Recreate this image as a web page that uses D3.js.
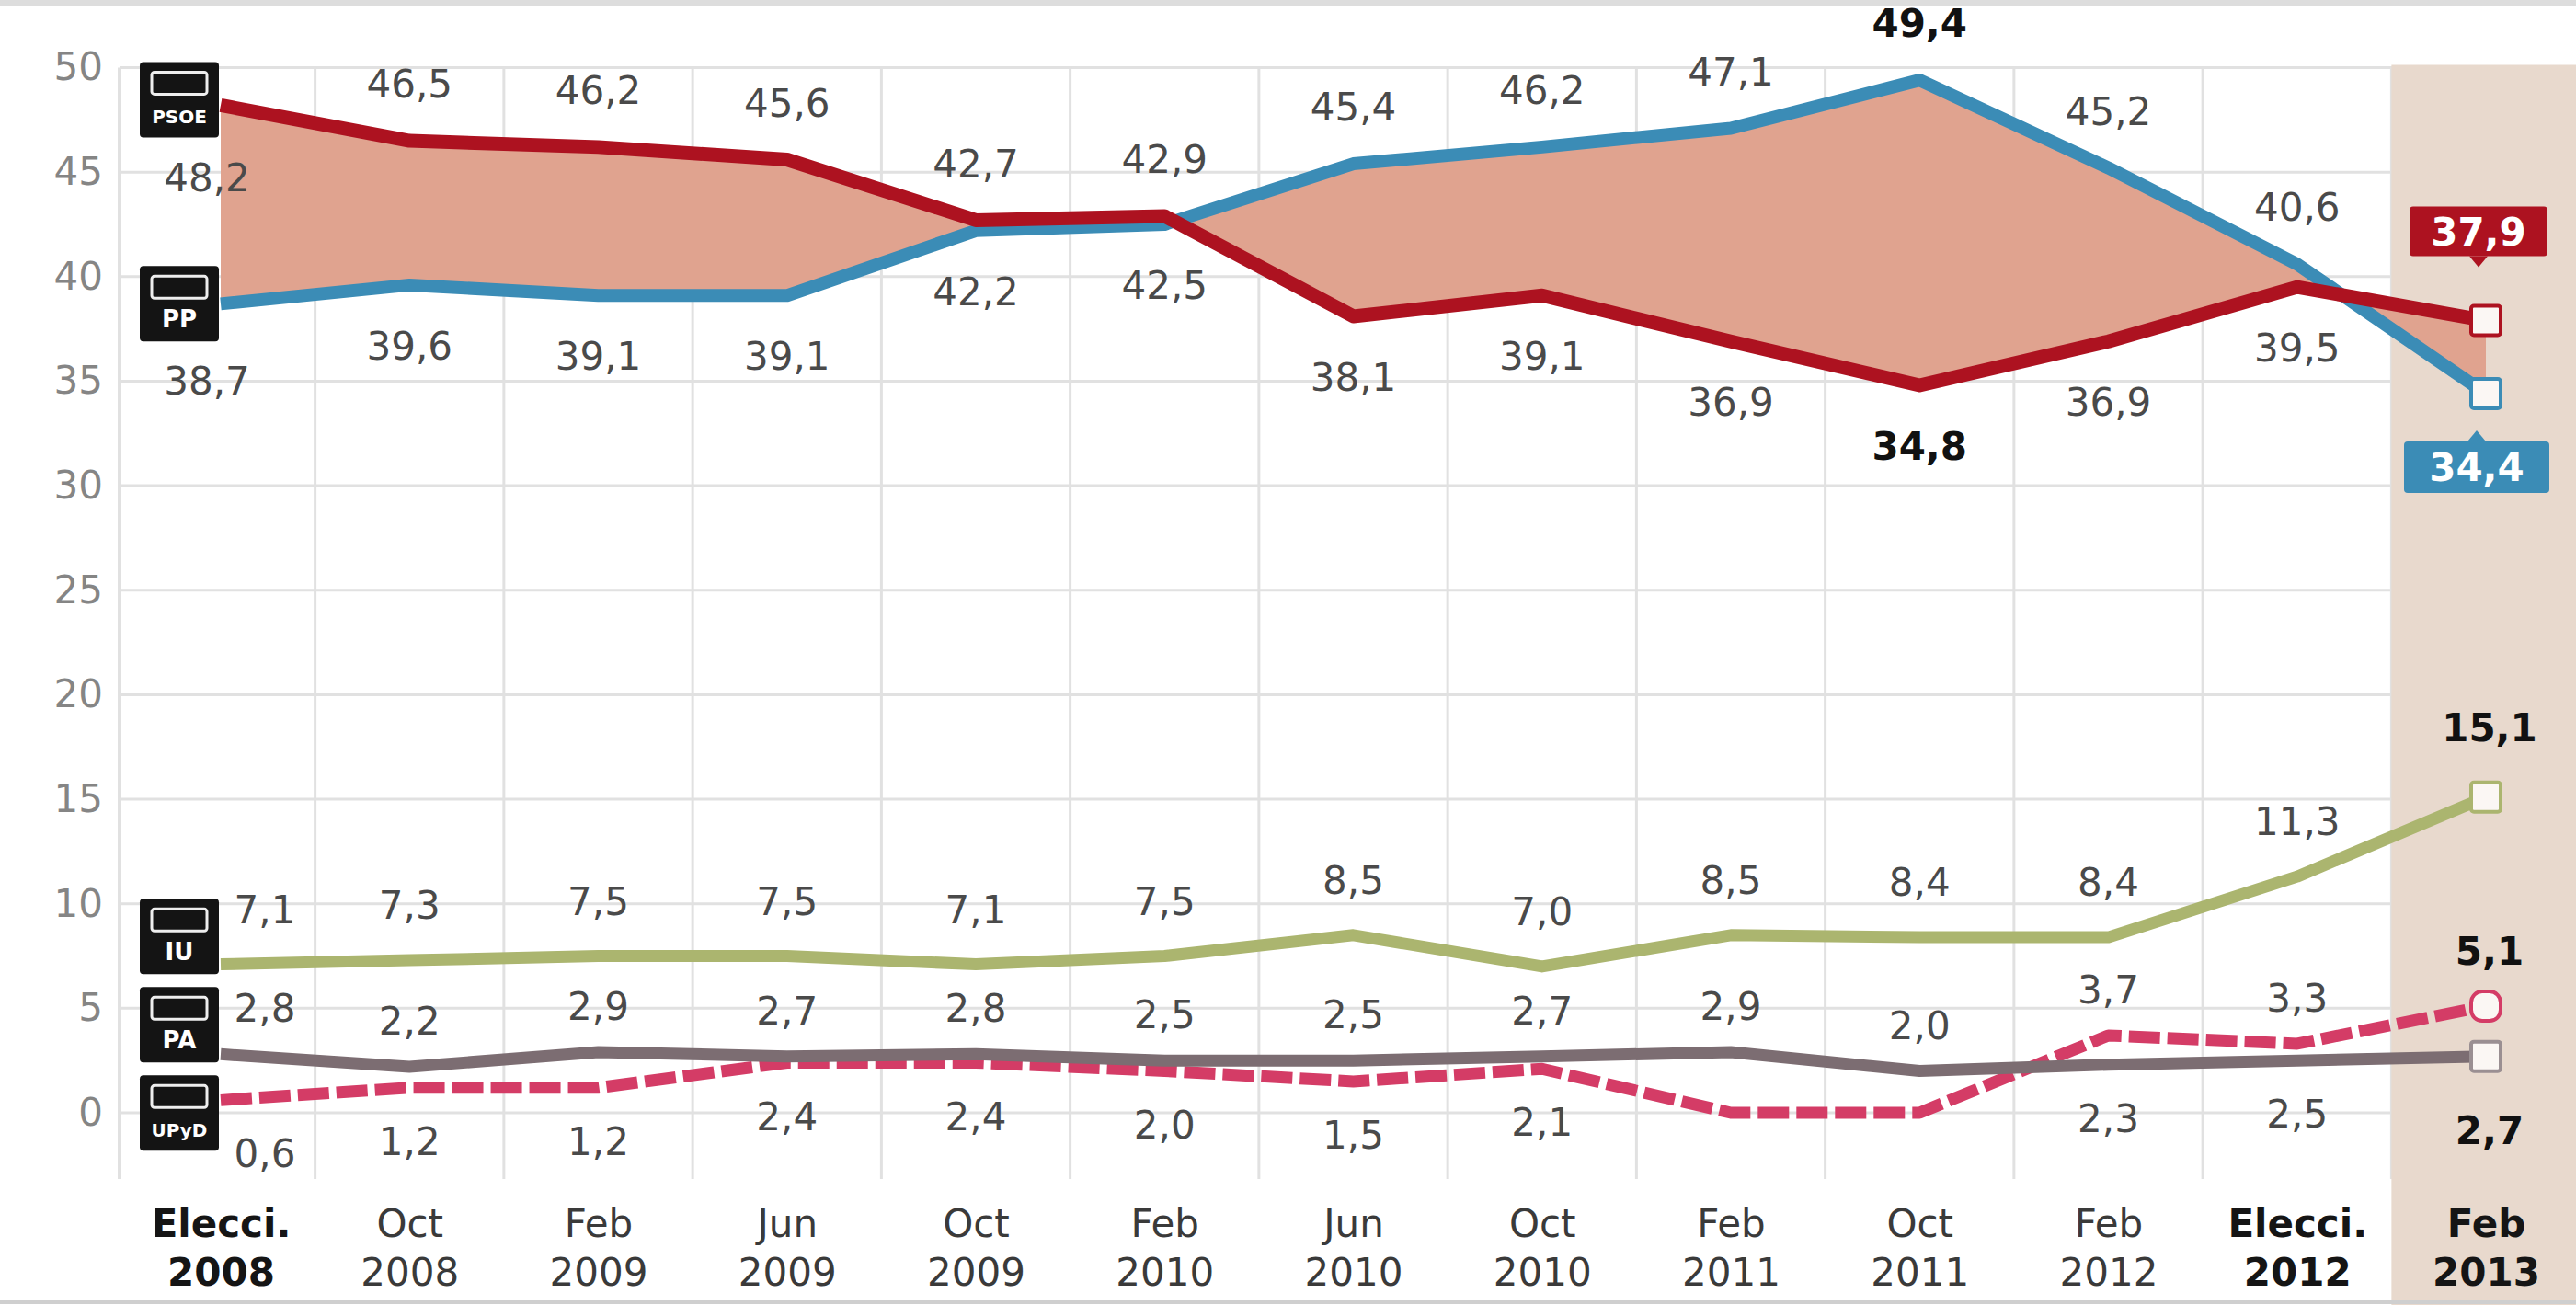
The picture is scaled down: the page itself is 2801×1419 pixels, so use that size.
<!DOCTYPE html>
<html><head><meta charset="utf-8">
<script src="https://cdn.jsdelivr.net/npm/d3@7"></script>
<style>html,body{margin:0;padding:0;background:#fff;} svg{display:block;font-family:"DejaVu Sans",Roboto,sans-serif;}</style>
</head><body><svg id="c" width="2801" height="1419"></svg>
<script>
// ---------- DATA ----------
const categories = ["Elecci. 2008","Oct 2008","Feb 2009","Jun 2009","Oct 2009","Feb 2010","Jun 2010","Oct 2010","Feb 2011","Oct 2011","Feb 2012","Elecci. 2012","Feb 2013"];
const boldCategories = ["Elecci. 2008","Elecci. 2012","Feb 2013"];
const psoe = [48.2,46.5,46.2,45.6,42.7,42.9,38.1,39.1,36.9,34.8,36.9,39.5,37.9];
const pp   = [38.7,39.6,39.1,39.1,42.2,42.5,45.4,46.2,47.1,49.4,45.2,40.6,34.4];
const iu   = [7.1,7.3,7.5,7.5,7.1,7.5,8.5,7.0,8.5,8.4,8.4,11.3,15.1];
const pa   = [2.8,2.2,2.9,2.7,2.8,2.5,2.5,2.7,2.9,2.0,2.3,2.5,2.7];
const upyd = [0.6,1.2,1.2,2.4,2.4,2.0,1.5,2.1,0,0,3.7,3.3,5.1];
const yTicks = [0,5,10,15,20,25,30,35,40,45,50];
const partyNames = ["PSOE","PP","IU","PA","UPyD"];

// ---------- STYLE ----------
const C = {psoe:"#ad1220", pp:"#3b8cb6", fill:"#e0a38f", iu:"#abb56f", pa:"#7c6d72", upyd:"#d43c66",
           grid:"#e1e1e1", shade:"#e8d9cd", label:"#4a4a4a", tick:"#858585"};
const W = 2801, H = 1419;
const svg = d3.select("#c");
const x = d3.scalePoint().domain(categories).range([240, 2703]);
const y = d3.scaleLinear().domain([0, 50]).range([1210, 73.5]);
const step = x.step();
const last = categories.length - 1;
const fmt = d3.formatLocale({decimal:",", thousands:".", grouping:[3], currency:["","€"]}).format(".1f");
const X = i => x(categories[i]);

svg.append("rect").attr("width", W).attr("height", H).attr("fill", "#fff");
// cut-off band at the very top
svg.append("rect").attr("x", 0).attr("y", 0).attr("width", W).attr("height", 7).attr("fill", "#cfcfcf").attr("opacity", 0.7);

// ---------- GRID ----------
const grid = svg.append("g");
grid.selectAll("line.h").data(yTicks).join("line")
  .attr("x1", 130).attr("x2", W).attr("y1", d => y(d)).attr("y2", d => y(d))
  .attr("stroke", C.grid).attr("stroke-width", 3);
grid.selectAll("line.v").data(categories.slice(0, last)).join("line")
  .attr("x1", d => x(d) + step / 2).attr("x2", d => x(d) + step / 2)
  .attr("y1", y(50)).attr("y2", 1282)
  .attr("stroke", C.grid).attr("stroke-width", 3);
grid.append("line").attr("x1", 130).attr("x2", 130).attr("y1", y(50)).attr("y2", 1282)
  .attr("stroke", C.grid).attr("stroke-width", 4);

// shaded last column
const shadeX = X(last) - step / 2;
svg.append("rect").attr("x", shadeX).attr("y", y(50) - 3).attr("width", W - shadeX).attr("height", H - y(50) + 3)
  .attr("fill", C.shade);

// ---------- AXES ----------
const yAxis = svg.append("g").attr("transform", "translate(112,0)")
  .call(d3.axisLeft(y).tickValues(yTicks).tickSize(0).tickPadding(0));
yAxis.select(".domain").remove();
yAxis.selectAll("text").attr("font-size", 42).attr("fill", C.tick)
  .attr("font-family", "'DejaVu Sans',sans-serif");

const xAxis = svg.append("g").attr("transform", "translate(0,1300)")
  .call(d3.axisBottom(x).tickSize(0).tickPadding(0));
xAxis.select(".domain").remove();
xAxis.selectAll(".tick text").each(function (d) {
  const t = d3.select(this);
  const parts = d.split(" ");
  const bold = boldCategories.includes(d);
  t.text(null).attr("y", null).attr("dy", null)
    .attr("font-size", 42).attr("font-family", "'DejaVu Sans',sans-serif")
    .attr("font-weight", bold ? "bold" : "normal").attr("fill", bold ? "#151515" : "#3a3a3a");
  t.append("tspan").attr("x", 0).attr("y", 45).text(parts[0]);
  t.append("tspan").attr("x", 0).attr("y", 98).text(parts[1]);
});

// ---------- AREA + LINES ----------
const curve = d3.curveLinear;
const area = d3.area().x((d, i) => X(i)).y0((d, i) => y(psoe[i])).y1((d, i) => y(pp[i])).curve(curve);
svg.append("path").datum(categories).attr("d", area).attr("fill", C.fill);

const line = d3.line().x((d, i) => X(i)).y(d => y(d)).curve(curve);
function drawLine(data, color, width, dash) {
  svg.append("path").datum(data).attr("d", line).attr("fill", "none")
    .attr("stroke", color).attr("stroke-width", width)
    .attr("stroke-linejoin", "round").attr("stroke-dasharray", dash || null);
}
drawLine(pp, C.pp, 14);
drawLine(psoe, C.psoe, 15);
drawLine(iu, C.iu, 13);
drawLine(upyd, C.upyd, 13, "34,8");
drawLine(pa, C.pa, 13);

// ---------- END MARKERS ----------
[[psoe, C.psoe, 3], [pp, C.pp, 3], [iu, C.iu, 3], [upyd, C.upyd, 12], [pa, "#9a8f92", 3]].forEach(([s, col, r]) => {
  svg.append("rect").attr("x", X(last) - 16).attr("y", y(s[last]) - 16).attr("width", 32).attr("height", 32)
    .attr("rx", r).attr("fill", "#fbf7f4").attr("stroke", col).attr("stroke-width", 4);
});

// ---------- LABELS ----------
const lab = svg.append("g").attr("text-anchor", "middle").attr("font-size", 42);
function label(xp, yp, v, bold) {
  lab.append("text").attr("x", xp).attr("y", yp).attr("dy", "0.36em")
    .attr("font-weight", bold ? "bold" : "normal").attr("fill", bold ? "#111" : C.label).text(fmt(v));
}
const ppMax = d3.max(pp), psoeMin = d3.min(psoe);
categories.forEach((c, i) => {
  const xi = X(i);
  const isLast = i === last;
  // PSOE / PP pair
  if (i === 0) {
    label(xi - 15, y(psoe[i]) + 78, psoe[i]);
    label(xi - 15, y(pp[i]) + 84, pp[i]);
  } else if (!isLast) {
    const up = Math.max(psoe[i], pp[i]), lo = Math.min(psoe[i], pp[i]);
    const upBold = (up === pp[i] && up === ppMax) || (up === psoe[i] && up === psoeMin);
    const loBold = (lo === pp[i] && lo === ppMax) || (lo === psoe[i] && lo === psoeMin);
    label(xi, y(up) - 62, up, upBold);
    label(xi, y(lo) + 66, lo, loBold);
  }
  // IU
  const dx = i === 0 ? 48 : (isLast ? 4 : 0);
  label(xi + dx, y(iu[i]) - (isLast ? 76 : 60), iu[i], isLast);
  // PA / UPyD pair
  const up2 = Math.max(pa[i], upyd[i]), lo2 = Math.min(pa[i], upyd[i]);
  if (up2 > 0) label(xi + dx, y(up2) - (isLast ? 60 : 50), up2, isLast);
  if (lo2 > 0) label(xi + dx, y(lo2) + (isLast ? 80 : 58), lo2, isLast);
});

// callout boxes for the last PSOE / PP values
function box(cx, cy, w, h, col, v, pointerDown) {
  const g = svg.append("g");
  const tip = pointerDown ? [[cx - 10, cy + h / 2], [cx + 10, cy + h / 2], [cx, cy + h / 2 + 12]]
                          : [[cx - 10, cy - h / 2], [cx + 10, cy - h / 2], [cx, cy - h / 2 - 12]];
  g.append("path").attr("d", d3.line()(tip) + "Z").attr("fill", col);
  g.append("rect").attr("x", cx - w / 2).attr("y", cy - h / 2).attr("width", w).attr("height", h)
    .attr("rx", 4).attr("fill", col);
  g.append("text").attr("x", cx).attr("y", cy).attr("dy", "0.36em").attr("text-anchor", "middle")
    .attr("font-size", 42).attr("font-weight", "bold").attr("fill", "#fff").text(fmt(v));
}
{
  const upIsPsoe = psoe[last] >= pp[last];
  const upV = upIsPsoe ? psoe[last] : pp[last], loV = upIsPsoe ? pp[last] : psoe[last];
  box(X(last) - 8, y(upV) - 97, 150, 54, upIsPsoe ? C.psoe : C.pp, upV, true);
  box(X(last) - 10, y(loV) + 80, 158, 56, upIsPsoe ? C.pp : C.psoe, loV, false);
}

// ---------- PARTY ICONS ----------
const firsts = [psoe[0], pp[0], iu[0], pa[0], upyd[0]];
const icons = partyNames.map((n, k) => ({name: n, cy: y(firsts[k])}));
// stack from the bottom so the icons do not overlap
const order = d3.range(icons.length).sort((a, b) => icons[b].cy - icons[a].cy);
let prev = null;
order.forEach(k => {
  let cy = icons[k].cy + (prev === null ? 14 : 0);
  if (prev !== null) cy = Math.min(cy, prev - 96);
  icons[k].cy = cy; prev = cy;
});
icons[0].cy = y(psoe[0]) - 6;
const ig = svg.append("g");
icons.forEach(ic => {
  const g = ig.append("g").attr("transform", `translate(195,${ic.cy})`);
  g.append("rect").attr("x", -43).attr("y", -41).attr("width", 86).attr("height", 82).attr("rx", 4).attr("fill", "#141414");
  g.append("rect").attr("x", -30).attr("y", -30).attr("width", 60).attr("height", 24).attr("rx", 3).attr("fill", "none")
    .attr("stroke", "#eee").attr("stroke-width", 3);
  g.append("text").attr("x", 0).attr("y", 26).attr("text-anchor", "middle").attr("font-size", ic.name.length > 3 ? 20 : 26)
    .attr("font-weight", "bold").attr("fill", "#fff").text(ic.name);
});

// bottom border
svg.append("line").attr("x1", 0).attr("x2", W).attr("y1", 1416).attr("y2", 1416).attr("stroke", "#cfcfcf").attr("stroke-width", 4);
</script></body></html>
